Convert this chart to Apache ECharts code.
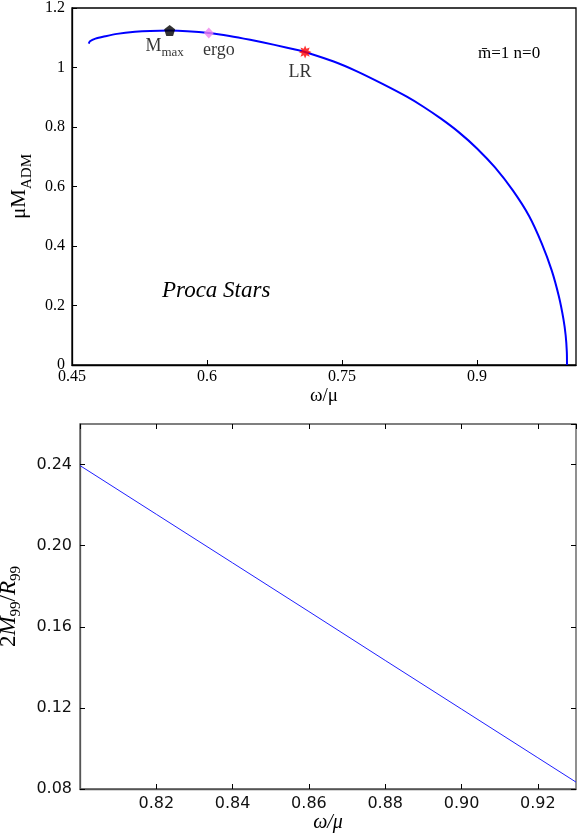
<!DOCTYPE html>
<html>
<head>
<meta charset="utf-8">
<script src="https://cdn.jsdelivr.net/npm/echarts@6/dist/echarts.min.js"></script>
<style>
html,body{margin:0;padding:0;background:#fff;}
#c{width:584px;height:840px;}
</style>
</head>
<body>
<div id="c"></div>
<script>
// ---- Top panel data (Proca stars, m=1 n=0) ----
var procaOmega = [0.4686, 0.470, 0.476, 0.487, 0.500, 0.520, 0.537, 0.5585, 0.578, 0.602, 0.625, 0.648, 0.675, 0.703, 0.709, 0.740, 0.766, 0.795, 0.822, 0.840, 0.860, 0.880, 0.900, 0.920, 0.940, 0.958, 0.972, 0.983, 0.991, 0.996, 0.9985, 0.9998, 1.000];
var procaMass  = [1.080, 1.088, 1.097, 1.105, 1.113, 1.120, 1.123, 1.124, 1.122, 1.116, 1.106, 1.093, 1.076, 1.057, 1.052, 1.021, 0.988, 0.945, 0.902, 0.869, 0.828, 0.782, 0.728, 0.664, 0.586, 0.500, 0.408, 0.318, 0.230, 0.155, 0.100, 0.045, 0.000];
var markerNames = ['Mmax', 'ergo', 'LR'];
var markerOmega = [0.5585, 0.602, 0.709];
var markerMass  = [1.124, 1.116, 1.052];
var topXTicks = [0.45, 0.6, 0.75, 0.9];
var topYTicks = [0, 0.2, 0.4, 0.6, 0.8, 1, 1.2];

// ---- Bottom panel data ----
var compOmega = [0.80, 0.82, 0.84, 0.86, 0.88, 0.90, 0.92, 0.93];
var compValue = [0.2395, 0.2155, 0.1915, 0.1675, 0.1434, 0.1194, 0.0954, 0.0834];
var botXTicks = [0.82, 0.84, 0.86, 0.88, 0.90, 0.92];
var botYTicks = [0.08, 0.12, 0.16, 0.20, 0.24];

function starPath(n, rOut, rIn) {
  var s = 'path://';
  for (var i = 0; i < 2 * n; i++) {
    var r = (i % 2 === 0) ? rOut : rIn;
    var a = Math.PI * i / n - Math.PI / 2;
    s += (i === 0 ? 'M' : 'L') + (r * Math.cos(a)).toFixed(3) + ',' + (r * Math.sin(a)).toFixed(3);
  }
  return s + 'Z';
}
function polyPath(n, r) {
  var s = 'path://';
  for (var i = 0; i < n; i++) {
    var a = 2 * Math.PI * i / n - Math.PI / 2;
    s += (i === 0 ? 'M' : 'L') + (r * Math.cos(a)).toFixed(3) + ',' + (r * Math.sin(a)).toFixed(3);
  }
  return s + 'Z';
}
function isTick(list, v) { return list.some(function (t) { return Math.abs(t - v) < 1e-6; }); }

var serif = 'Liberation Serif';
var sans = 'DejaVu Sans';

var chart = echarts.init(document.getElementById('c'), null, {renderer: 'canvas'});

var markerStyles = [
  {symbol: polyPath(5, 10), size: 11, color: '#000000',
   label: {formatter: '{a|M}{b|max}', position: 'bottom', distance: 1, offset: [-5, 0]}},
  {symbol: 'diamond', size: [10, 11], color: '#ee82ee',
   label: {formatter: '{c|ergo}', position: 'bottom', distance: 2, offset: [10, 0]}},
  {symbol: starPath(8, 10, 5.5), size: 13, color: '#ff0000',
   label: {formatter: '{c|LR}', position: 'bottom', distance: 4, offset: [-5, 0]}}
];

var markerSeries = markerNames.map(function (nm, i) {
  var st = markerStyles[i];
  return {
    type: 'scatter', xAxisIndex: 0, yAxisIndex: 0, name: nm,
    data: [[markerOmega[i], markerMass[i]]],
    symbol: st.symbol, symbolSize: st.size,
    itemStyle: {color: st.color},
    z: 5,
    label: Object.assign({
      show: true, color: '#000', fontFamily: serif,
      rich: {
        a: {fontFamily: serif, fontSize: 18, color: '#000', lineHeight: 20, verticalAlign: 'top'},
        b: {fontFamily: serif, fontSize: 13, color: '#000', lineHeight: 20, padding: [10, 0, 0, 0]},
        c: {fontFamily: serif, fontSize: 18, color: '#000', lineHeight: 20}
      }
    }, st.label)
  };
});

var option = {
  backgroundColor: '#ffffff',
  animation: false,
  grid: [
    {left: 72, top: 8, right: 8, bottom: 475, show: true, borderColor: '#000', borderWidth: 1.3, backgroundColor: 'transparent', containLabel: false, outerBoundsMode: 'none'},
    {left: 80, top: 424, right: 8, bottom: 51, show: true, borderColor: '#555', borderWidth: 1.3, backgroundColor: 'transparent', containLabel: false, outerBoundsMode: 'none'}
  ],
  xAxis: [
    {
      type: 'value', gridIndex: 0, min: 0.45, max: 1.01, interval: 0.15,
      axisLine: {show: true, lineStyle: {color: '#000', width: 1.3}},
      axisTick: {show: true, inside: true, length: 5, lineStyle: {color: '#000'}},
      splitLine: {show: false},
      axisLabel: {show: true, color: '#000', fontFamily: serif, fontSize: 16, margin: 4, showMaxLabel: false,
        formatter: function (v) { return isTick(topXTicks, v) ? String(+v.toFixed(2)) : ''; }},
      name: 'ω/μ', nameLocation: 'middle', nameGap: 22,
      nameTextStyle: {color: '#000', fontFamily: serif, fontSize: 19}
    },
    {
      type: 'value', gridIndex: 1, min: 0.80, max: 0.93, interval: 0.02,
      axisLine: {show: true, lineStyle: {color: '#555', width: 1.3}},
      axisTick: {show: true, inside: true, length: 5, lineStyle: {color: '#000'}},
      splitLine: {show: false},
      axisLabel: {show: true, color: '#111', fontFamily: sans, fontSize: 16, margin: 7, showMinLabel: false, showMaxLabel: false,
        formatter: function (v) { return isTick(botXTicks, v) ? v.toFixed(2) : ''; }},
      name: 'ω/μ', nameLocation: 'middle', nameGap: 21,
      nameTextStyle: {color: '#000', fontFamily: serif, fontStyle: 'italic', fontSize: 20}
    },
    {
      type: 'value', gridIndex: 1, min: 0.80, max: 0.93, interval: 0.02, position: 'top',
      axisLine: {show: false},
      axisTick: {show: true, inside: true, length: 5, lineStyle: {color: '#000'}},
      splitLine: {show: false}, axisLabel: {show: false}
    }
  ],
  yAxis: [
    {
      type: 'value', gridIndex: 0, min: 0, max: 1.2, interval: 0.2,
      axisLine: {show: true, lineStyle: {color: '#000', width: 1.3}},
      axisTick: {show: true, inside: true, length: 5, lineStyle: {color: '#000'}},
      splitLine: {show: false},
      axisLabel: {show: true, color: '#000', fontFamily: serif, fontSize: 16, margin: 7,
        formatter: function (v) { return isTick(topYTicks, v) ? String(+v.toFixed(2)) : ''; }},
      name: '{a|μM}{b|ADM}', nameLocation: 'middle', nameGap: 30, nameRotate: 90,
      nameTextStyle: {color: '#000', fontFamily: serif, fontSize: 20,
        rich: {
          a: {fontFamily: serif, fontSize: 21, color: '#000', lineHeight: 24, verticalAlign: 'top'},
          b: {fontFamily: serif, fontSize: 15, color: '#000', lineHeight: 24, padding: [11, 0, 0, 0]}
        }}
    },
    {
      type: 'value', gridIndex: 1, min: 0.08, max: 0.26, interval: 0.04,
      axisLine: {show: true, lineStyle: {color: '#555', width: 1.3}},
      axisTick: {show: true, inside: true, length: 5, lineStyle: {color: '#000'}},
      splitLine: {show: false},
      axisLabel: {show: true, color: '#111', fontFamily: sans, fontSize: 16, margin: 8, showMaxLabel: false,
        formatter: function (v) { return isTick(botYTicks, v) ? v.toFixed(2) : ''; }},
      name: '{n|2}{i|M}{s|99}{n|/}{i|R}{s|99}', nameLocation: 'middle', nameGap: 57, nameRotate: 90,
      nameTextStyle: {color: '#000',
        rich: {
          n: {fontFamily: serif, fontSize: 23, color: '#000', lineHeight: 26, verticalAlign: 'top'},
          i: {fontFamily: serif, fontStyle: 'italic', fontSize: 23, color: '#000', lineHeight: 26, verticalAlign: 'top'},
          s: {fontFamily: serif, fontSize: 15, color: '#000', lineHeight: 26, padding: [12, 0, 0, 0]}
        }}
    },
    {
      type: 'value', gridIndex: 1, min: 0.08, max: 0.26, interval: 0.04, position: 'right',
      axisLine: {show: false},
      axisTick: {show: true, inside: true, length: 5, lineStyle: {color: '#000'}},
      splitLine: {show: false}, axisLabel: {show: false}
    }
  ],
  graphic: [
    {type: 'text', left: 162, top: 279, style: {text: 'Proca Stars', fontFamily: serif, fontStyle: 'italic', fontSize: 23, fill: '#000'}},
    {type: 'text', left: 478, top: 45, style: {text: 'm̄=1 n=0', fontFamily: serif, fontSize: 17, fill: '#000'}}
  ],
  series: [
    {
      type: 'line', xAxisIndex: 0, yAxisIndex: 0,
      data: procaOmega.map(function (w, i) { return [w, procaMass[i]]; }),
      showSymbol: false, smooth: 0.25,
      lineStyle: {color: '#0000ff', width: 2}
    },
    {
      type: 'line', xAxisIndex: 1, yAxisIndex: 1,
      data: compOmega.map(function (w, i) { return [w, compValue[i]]; }),
      showSymbol: false,
      lineStyle: {color: '#1f1fff', width: 1}
    }
  ].concat(markerSeries)
};
chart.setOption(option);
</script>
</body>
</html>
